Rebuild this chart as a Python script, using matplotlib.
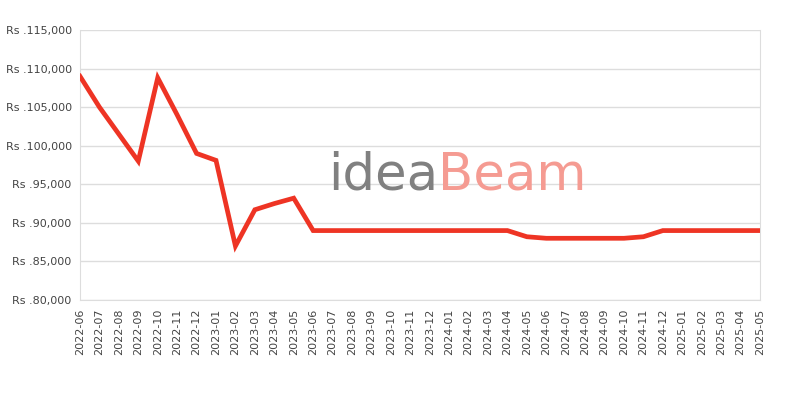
import matplotlib.pyplot as plt
from matplotlib.ticker import FuncFormatter

months = ['2022-06', '2022-07', '2022-08', '2022-09', '2022-10', '2022-11',
          '2022-12', '2023-01', '2023-02', '2023-03', '2023-04', '2023-05',
          '2023-06', '2023-07', '2023-08', '2023-09', '2023-10', '2023-11',
          '2023-12', '2024-01', '2024-02', '2024-03', '2024-04', '2024-05',
          '2024-06', '2024-07', '2024-08', '2024-09', '2024-10', '2024-11',
          '2024-12', '2025-01', '2025-02', '2025-03', '2025-04', '2025-05']
prices = [109000, 105000, 101500, 98000, 108800, 104000,
          99000, 98100, 87000, 91700, 92500, 93200,
          89000, 89000, 89000, 89000, 89000, 89000,
          89000, 89000, 89000, 89000, 89000, 88200,
          88000, 88000, 88000, 88000, 88000, 88200,
          89000, 89000, 89000, 89000, 89000, 89000]
y_ticks = [80000, 85000, 90000, 95000, 100000, 105000, 110000, 115000]

fig = plt.figure(figsize=(8, 4), dpi=100)
ax = fig.add_axes([0.1, 0.25, 0.85, 0.675])

x = list(range(len(months)))
ax.plot(x, prices, color='#ee3424', linewidth=3.4, zorder=3, solid_joinstyle='miter')

# watermark logo text
fig.text(328 / 800, 1 - 190 / 400, 'idea', color='#808080', fontsize=37,
         family='DejaVu Sans', ha='left', va='baseline', zorder=1)
fig.text(438 / 800, 1 - 190 / 400, 'Beam', color='#f59b92', fontsize=37,
         family='DejaVu Sans', ha='left', va='baseline', zorder=1)

ax.set_xlim(0, len(months) - 1)
ax.set_ylim(80000, 115000)
ax.set_yticks(y_ticks)
ax.yaxis.set_major_formatter(FuncFormatter(lambda v, p: 'Rs .{:,}'.format(int(v))))
ax.set_xticks(x)
ax.set_xticklabels(months, rotation=90)
ax.tick_params(length=0, labelsize=8, labelcolor='#444444', pad=6)
ax.grid(axis='y', color='#dddddd', linewidth=1)
ax.set_axisbelow(True)
for side in ['left', 'right', 'bottom']:
    ax.spines[side].set_color('#dddddd')
ax.spines['top'].set_visible(False)
ax.patch.set_alpha(0)

fig.savefig('out.png', dpi=100)
